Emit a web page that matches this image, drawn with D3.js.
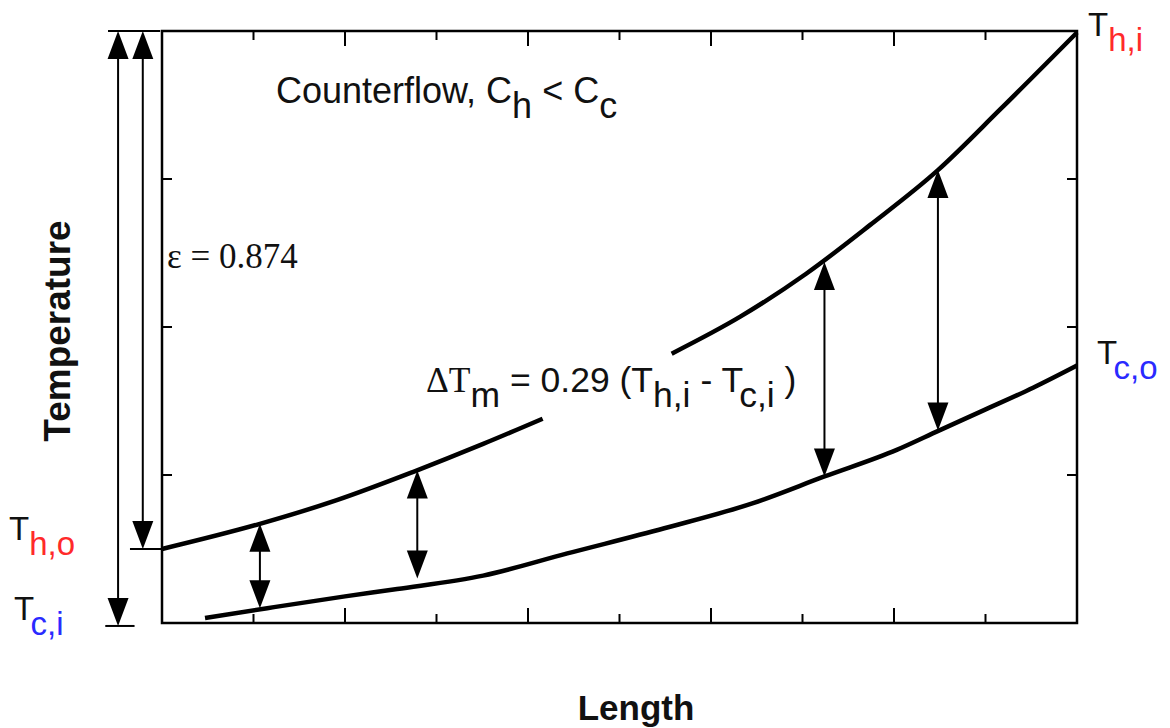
<!DOCTYPE html>
<html>
<head>
<meta charset="utf-8">
<script src="https://cdn.jsdelivr.net/npm/d3@7"></script>
<style>
  body { margin: 0; background: #fff; }
  svg { display: block; }
  text { font-family: "Liberation Sans", Arial, sans-serif; fill: #111; }
</style>
</head>
<body>
<svg width="1170" height="728"></svg>
<script>
// length along exchanger (0..10 tick units) and temperature (0..4 tick units)
const hotLength1 = [0, 1.07, 1.91, 2.74, 3.51, 4.16];
const hotTemp1 = [0.50, 0.67, 0.83, 1.02, 1.21, 1.38];
const hotLength2 = [5.57, 6.32, 7.04, 7.74, 8.48, 9.16, 10];
const hotTemp2 = [1.82, 2.07, 2.36, 2.69, 3.06, 3.47, 3.99];

const coldLength = [0.47, 1.15, 2.0, 2.57, 3.51, 4.43, 5.49, 6.46, 7.24, 8.03, 8.49, 8.99, 9.52, 10];
const coldTemp = [0.034, 0.10, 0.18, 0.23, 0.32, 0.47, 0.64, 0.81, 0.99, 1.17, 1.30, 1.44, 1.59, 1.74];

// vertical difference arrows: position, hot end, cold end
const gapLength = [1.07, 2.79, 7.24, 8.48];
const gapHot = [0.67, 1.03, 2.44, 3.06];
const gapCold = [0.10, 0.30, 0.99, 1.30];

// terminal temperatures
const Thi = 4.0, Tho = 0.5, Tci = -0.02, Tco = 1.74;

const xTicks = [1, 2, 3, 4, 5, 6, 7, 8, 9];
const yTicks = [1, 2, 3];

const svg = d3.select("svg");
const box = { left: 162, right: 1077, top: 31, bottom: 623 };

const x = d3.scaleLinear().domain([0, 10]).range([box.left, box.right]);
const y = d3.scaleLinear().domain([0, 4]).range([box.bottom, box.top]);

// frame
svg.append("rect")
    .attr("x", box.left).attr("y", box.top)
    .attr("width", box.right - box.left).attr("height", box.bottom - box.top)
    .attr("fill", "none").attr("stroke", "#000").attr("stroke-width", 2.5);

const tickLen = (d) => (d % 2 === 0 ? 15 : 9);

svg.append("g").selectAll("line").data(xTicks).join("line")
    .attr("x1", (d) => x(d)).attr("x2", (d) => x(d))
    .attr("y1", box.bottom).attr("y2", (d) => box.bottom - tickLen(d))
    .attr("stroke", "#000").attr("stroke-width", 2);

svg.append("g").selectAll("line").data(xTicks).join("line")
    .attr("x1", (d) => x(d)).attr("x2", (d) => x(d))
    .attr("y1", box.top).attr("y2", (d) => box.top + tickLen(d))
    .attr("stroke", "#000").attr("stroke-width", 2);

svg.append("g").selectAll("line").data(yTicks).join("line")
    .attr("x1", box.left).attr("x2", box.left + 10)
    .attr("y1", (d) => y(d)).attr("y2", (d) => y(d))
    .attr("stroke", "#000").attr("stroke-width", 2);

svg.append("g").selectAll("line").data(yTicks).join("line")
    .attr("x1", box.right).attr("x2", box.right - 10)
    .attr("y1", (d) => y(d)).attr("y2", (d) => y(d))
    .attr("stroke", "#000").attr("stroke-width", 2);

// curves
const line = d3.line().x((d) => x(d[0])).y((d) => y(d[1])).curve(d3.curveMonotoneX);
const curves = [
    d3.zip(hotLength1, hotTemp1),
    d3.zip(hotLength2, hotTemp2),
    d3.zip(coldLength, coldTemp)
];
svg.append("g").selectAll("path").data(curves).join("path")
    .attr("d", line)
    .attr("fill", "none").attr("stroke", "#000")
    .attr("stroke-width", 4.5).attr("stroke-linecap", "butt");

// arrow helpers
const headL = 28, headW = 10.5;
function head(g, px, tip, dir) {
    // dir = -1 pointing up, +1 pointing down
    const base = tip - dir * headL;
    g.append("path")
        .attr("d", `M${px},${tip}L${px - headW},${base}L${px + headW},${base}Z`)
        .attr("fill", "#000");
}
function vArrow(g, px, yTop, yBot) {
    g.append("line").attr("x1", px).attr("x2", px)
        .attr("y1", yTop + headL - 2).attr("y2", yBot - headL + 2)
        .attr("stroke", "#000").attr("stroke-width", 2);
    head(g, px, yTop, -1);
    head(g, px, yBot, 1);
}

const arrows = svg.append("g");
gapLength.forEach((l, i) => vArrow(arrows, x(l), y(gapHot[i]), y(gapCold[i])));

// range arrows on the left
vArrow(arrows, x(-0.48), y(Thi), y(Tci));
vArrow(arrows, x(-0.21), y(Thi), y(Tho));
const caps = [
    [x(-0.59), x(-0.02), y(Thi)],
    [x(-0.62), x(-0.30), y(Tci)],
    [x(-0.35), x(0), y(Tho)]
];
arrows.selectAll("line.cap").data(caps).join("line")
    .attr("class", "cap")
    .attr("x1", (d) => d[0]).attr("x2", (d) => d[1])
    .attr("y1", (d) => d[2]).attr("y2", (d) => d[2])
    .attr("stroke", "#000").attr("stroke-width", 2);

// text helpers
function subText(px, py, parts, size) {
    const t = svg.append("text").attr("x", px).attr("y", py).style("font-size", size + "px");
    let shift = 0;
    parts.forEach((p) => {
        const ds = (p.sub ? 15 : 0) - shift;
        shift = p.sub ? 15 : 0;
        const s = t.append("tspan").attr("dy", ds).text(p.t);
        if (p.color) s.style("fill", p.color);
        if (p.serif) s.style("font-family", "'Liberation Serif', 'Times New Roman', serif");
    });
    return t;
}

const red = "#ff2a2a", blue = "#2a2aff";

subText(276, 103, [
    { t: "Counterflow, C" }, { t: "h", sub: true }, { t: " < C" }, { t: "c", sub: true }
], 36);

subText(426, 392, [
    { t: "\u0394T", serif: true }, { t: "m", sub: true }, { t: " = 0.29 (T" },
    { t: "h,i", sub: true }, { t: " - T" }, { t: "c,i", sub: true }, { t: " )" }
], 35.5);

svg.append("text").attr("x", 167).attr("y", 268)
    .style("font-family", "'Liberation Serif', 'Times New Roman', serif")
    .style("font-size", "35px")
    .text("\u03b5 = 0.874");

subText(x(10) + 11, y(Thi) + 5, [{ t: "T" }, { t: "h,i", sub: true, color: red }], 33);
subText(x(10) + 20, y(Tco) - 1, [{ t: "T" }, { t: "c,o", sub: true, color: blue }], 33);
subText(9, y(Tho) - 9, [{ t: "T" }, { t: "h,o", sub: true, color: red }], 33);
subText(14, y(Tci) - 6, [{ t: "T" }, { t: "c,i", sub: true, color: blue }], 33);

// axis titles
svg.append("text")
    .attr("transform", `translate(70, ${(box.top + box.bottom) / 2 + 4}) rotate(-90)`)
    .attr("text-anchor", "middle")
    .style("font-size", "37px").style("font-weight", "bold")
    .text("Temperature");

svg.append("text")
    .attr("x", 636).attr("y", 720)
    .attr("text-anchor", "middle")
    .style("font-size", "35px").style("font-weight", "bold")
    .text("Length");
</script>
</body>
</html>
